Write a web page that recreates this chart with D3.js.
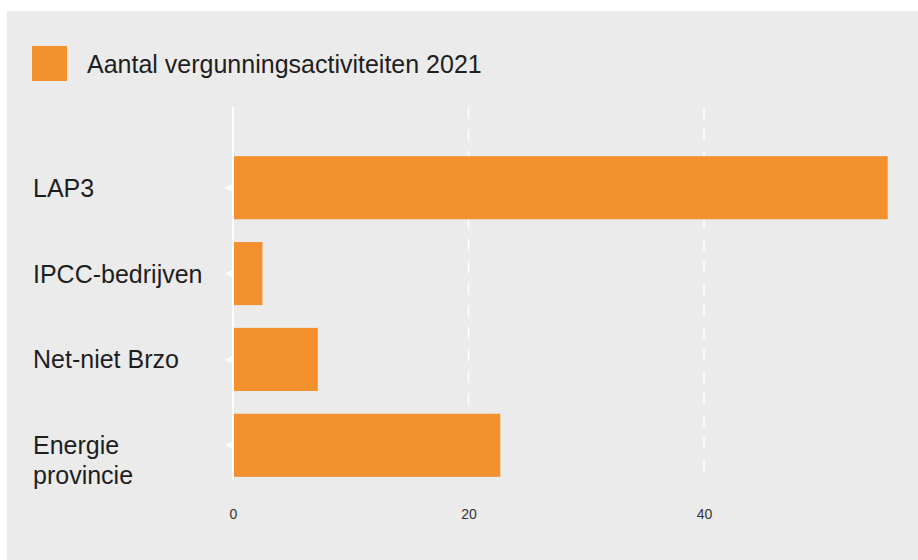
<!DOCTYPE html>
<html>
<head>
<meta charset="utf-8">
<script src="https://cdn.jsdelivr.net/npm/d3@7"></script>
<style>
  html, body { margin: 0; padding: 0; background: #ffffff; }
  svg { display: block; font-family: "Liberation Sans", Arial, sans-serif; }
</style>
</head>
<body>
<div id="chart"></div>
<script>
// data
const categories = [["LAP3"], ["IPCC-bedrijven"], ["Net-niet Brzo"], ["Energie", "provincie"]];
const values = [55.6, 2.5, 7.2, 22.7];
const ticks = [0, 20, 40];
const seriesName = "Aantal vergunningsactiviteiten 2021";

const W = 918, H = 560;
const orange = "#f3912f";

const svg = d3.select("#chart")
    .append("svg")
    .attr("width", W)
    .attr("height", H);

// grey panel
svg.append("rect")
    .attr("x", 7).attr("y", 11)
    .attr("width", W - 7).attr("height", H - 11)
    .attr("fill", "#ebebeb");

// legend
svg.append("rect")
    .attr("x", 32).attr("y", 46)
    .attr("width", 35).attr("height", 35)
    .attr("fill", orange);
svg.append("text")
    .attr("x", 87).attr("y", 63.5)
    .attr("dominant-baseline", "central")
    .style("font-size", "25px")
    .style("fill", "#1e1e1e")
    .text(seriesName);

// scales
const x = d3.scaleLinear().domain([0, 40]).range([233, 704]);
const y = d3.scaleBand()
    .domain(categories.map(d => d.join(" ")))
    .range([145, 488])
    .paddingInner(0.265)
    .paddingOuter(0.13);

// dashed grid lines
svg.append("g")
    .selectAll("line")
    .data(ticks.filter(t => t !== 0))
    .enter()
    .append("line")
    .attr("x1", d => x(d)).attr("x2", d => x(d))
    .attr("y1", 107).attr("y2", 480)
    .attr("stroke", "#ffffff")
    .attr("stroke-width", 1.5)
    .attr("stroke-dasharray", "12,10");

// bars
svg.append("g")
    .selectAll("rect")
    .data(values)
    .enter()
    .append("rect")
    .attr("x", x(0))
    .attr("y", (d, i) => y(categories[i].join(" ")))
    .attr("width", d => x(d) - x(0))
    .attr("height", y.bandwidth())
    .attr("fill", orange);

// zero line
svg.append("line")
    .attr("x1", x(0)).attr("x2", x(0))
    .attr("y1", 107).attr("y2", 480)
    .attr("stroke", "#ffffff")
    .attr("stroke-width", 2);

// little tick markers on the category axis
svg.append("g")
    .selectAll("path")
    .data(categories)
    .enter()
    .append("path")
    .attr("d", d => {
        const cy = y(d.join(" ")) + y.bandwidth() / 2;
        return `M${x(0)},${cy - 4}L${x(0) - 8},${cy}L${x(0)},${cy + 4}Z`;
    })
    .attr("fill", "#ffffff");

// category labels
const labels = svg.append("g")
    .selectAll("text")
    .data(categories)
    .enter()
    .append("text")
    .attr("x", 33)
    .attr("y", d => y(d.join(" ")) + y.bandwidth() / 2)
    .attr("dominant-baseline", "central")
    .style("font-size", "25px")
    .style("fill", "#1e1e1e");
labels.selectAll("tspan")
    .data(d => d)
    .enter()
    .append("tspan")
    .attr("x", 33)
    .attr("dy", (d, i) => i === 0 ? 0 : 30)
    .text(d => d);

// x axis tick labels
svg.append("g")
    .attr("transform", "translate(0,514)")
    .call(d3.axisBottom(x).tickValues(ticks).tickSize(0).tickPadding(0))
    .call(g => g.select(".domain").remove())
    .selectAll("text")
    .attr("dy", "0.35em")
    .style("font-size", "14px")
    .style("font-family", "'Liberation Sans', Arial, sans-serif")
    .style("fill", "#333333");
</script>
</body>
</html>
